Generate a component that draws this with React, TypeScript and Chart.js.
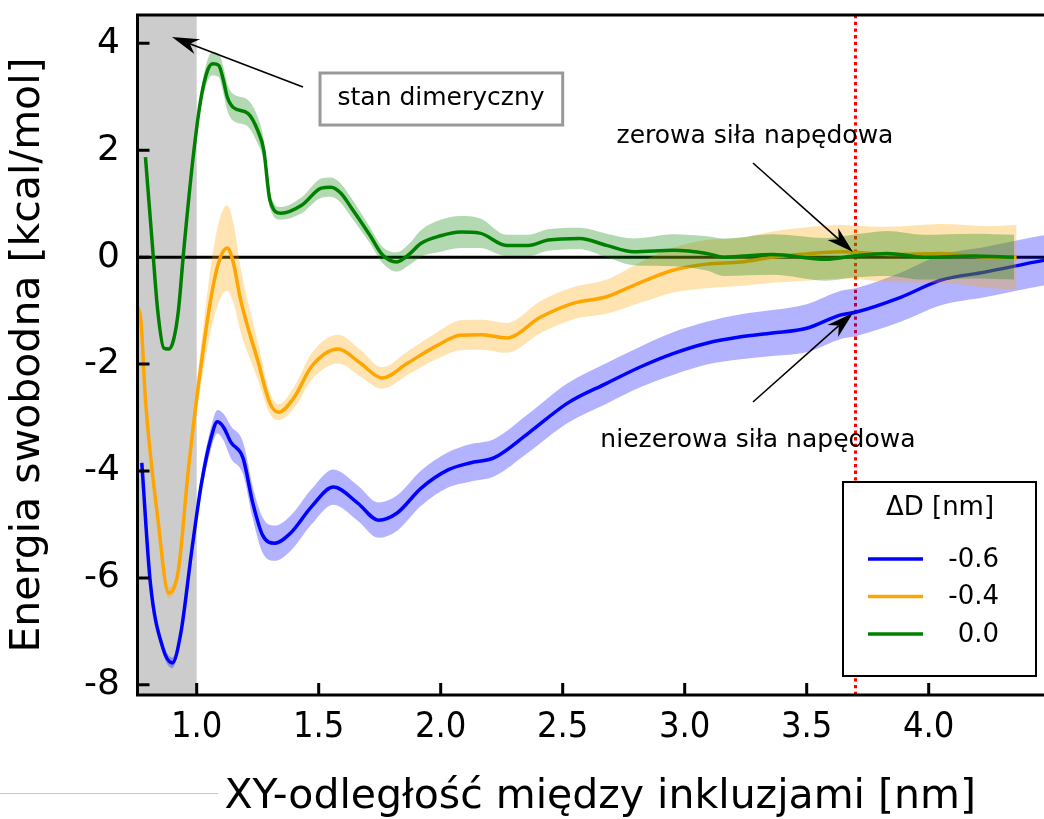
import React, { useEffect, useRef } from 'react';
import { Chart, registerables } from 'chart.js';

Chart.register(...registerables);

const X_TICKS = [1.0, 1.5, 2.0, 2.5, 3.0, 3.5, 4.0];
const Y_TICKS = [-8, -6, -4, -2, 0, 2, 4];
const SERIES_LABELS = ['-0.6', '-0.4', '0.0'];
const LEGEND_TITLE = 'ΔD [nm]';
const X_TITLE = 'XY-odległość między inkluzjami [nm]';
const Y_TITLE = 'Energia swobodna [kcal/mol]';

// ΔD = -0.6
const BLUE_X = [0.775, 0.81, 0.86, 0.9, 0.935, 0.98, 1.02, 1.06, 1.085, 1.11, 1.14, 1.19, 1.23, 1.27, 1.32, 1.385, 1.47, 1.56, 1.66, 1.745, 1.82, 1.92, 2.03, 2.12, 2.22, 2.36, 2.52, 2.68, 2.82, 2.955, 3.09, 3.23, 3.36, 3.5, 3.64, 3.7, 3.885, 4.05, 4.23, 4.47, 4.55];
const BLUE_Y = [-3.85, -6.09, -7.29, -7.59, -7.03, -5.48, -4.22, -3.36, -3.08, -3.18, -3.46, -3.76, -4.6, -5.2, -5.35, -5.16, -4.67, -4.3, -4.6, -4.92, -4.79, -4.32, -3.98, -3.85, -3.75, -3.29, -2.73, -2.36, -2.05, -1.8, -1.61, -1.49, -1.42, -1.33, -1.08, -1.03, -0.75, -0.43, -0.28, -0.06, 0.0];
const BLUE_ERR = [0.1, 0.1, 0.1, 0.1, 0.1, 0.12, 0.18, 0.2, 0.22, 0.25, 0.3, 0.3, 0.3, 0.33, 0.33, 0.33, 0.33, 0.33, 0.33, 0.33, 0.33, 0.33, 0.33, 0.35, 0.35, 0.36, 0.37, 0.38, 0.38, 0.4, 0.4, 0.42, 0.43, 0.45, 0.45, 0.45, 0.46, 0.47, 0.47, 0.47, 0.47];

// ΔD = -0.4
const ORANGE_X = [0.75, 0.77, 0.79, 0.84, 0.885, 0.925, 0.967, 1.008, 1.057, 1.09, 1.125, 1.15, 1.18, 1.25, 1.3, 1.335, 1.4, 1.47, 1.58, 1.67, 1.76, 1.865, 1.99, 2.08, 2.17, 2.27, 2.41, 2.545, 2.68, 2.82, 2.955, 3.09, 3.23, 3.36, 3.5, 3.64, 3.7, 3.84, 4.05, 4.25, 4.36];
const ORANGE_Y = [-0.9, -1.12, -2.67, -4.86, -6.28, -5.85, -3.92, -2.36, -0.8, -0.1, 0.17, -0.1, -0.8, -1.93, -2.73, -2.9, -2.62, -2.05, -1.72, -1.98, -2.26, -1.98, -1.64, -1.46, -1.45, -1.51, -1.12, -0.86, -0.74, -0.47, -0.24, -0.13, -0.09, 0.0, 0.06, 0.1, 0.09, 0.05, 0.07, 0.0, 0.0];
const ORANGE_ERR = [0.1, 0.1, 0.1, 0.1, 0.1, 0.1, 0.15, 0.3, 0.6, 0.75, 0.8, 0.75, 0.6, 0.35, 0.2, 0.15, 0.2, 0.25, 0.27, 0.25, 0.2, 0.22, 0.25, 0.28, 0.28, 0.28, 0.3, 0.3, 0.32, 0.38, 0.42, 0.45, 0.45, 0.48, 0.5, 0.5, 0.5, 0.52, 0.55, 0.58, 0.6];

// ΔD = 0.0
const GREEN_X = [0.79, 0.82, 0.84, 0.865, 0.885, 0.905, 0.925, 0.947, 0.984, 1.016, 1.045, 1.066, 1.09, 1.11, 1.125, 1.15, 1.21, 1.25, 1.275, 1.3, 1.345, 1.43, 1.51, 1.55, 1.59, 1.63, 1.71, 1.76, 1.82, 1.87, 1.92, 2.0, 2.08, 2.16, 2.27, 2.36, 2.44, 2.57, 2.68, 2.79, 2.955, 3.09, 3.16, 3.36, 3.58, 3.69, 3.83, 3.98, 4.18, 4.35];
const GREEN_Y = [1.87, 0.13, -0.99, -1.7, -1.72, -1.55, -1.0, 0.13, 1.81, 2.93, 3.5, 3.62, 3.59, 3.3, 3.0, 2.8, 2.69, 2.37, 2.0, 1.07, 0.82, 0.97, 1.29, 1.31, 1.2, 0.95, 0.41, 0.05, -0.09, 0.05, 0.26, 0.4, 0.47, 0.45, 0.22, 0.22, 0.32, 0.35, 0.22, 0.1, 0.13, 0.07, 0.0, 0.05, -0.04, 0.02, 0.07, 0.0, 0.02, 0.0];
const GREEN_ERR = [0.03, 0.03, 0.03, 0.03, 0.03, 0.03, 0.03, 0.05, 0.1, 0.15, 0.2, 0.22, 0.22, 0.25, 0.25, 0.25, 0.25, 0.25, 0.2, 0.15, 0.12, 0.15, 0.18, 0.18, 0.18, 0.18, 0.15, 0.15, 0.18, 0.2, 0.25, 0.3, 0.3, 0.28, 0.2, 0.2, 0.2, 0.2, 0.22, 0.25, 0.3, 0.32, 0.35, 0.38, 0.4, 0.4, 0.42, 0.42, 0.42, 0.42];

const COLORS = ['#0000ff', '#ffa500', '#008000'];
const BAND_COLORS = ['rgba(0,0,255,0.3)', 'rgba(255,165,0,0.3)', 'rgba(0,128,0,0.3)'];

const X_MIN = 0.7574;
const X_MAX = 4.55;
const Y_MIN = -8.19;
const Y_MAX = 4.53;
const DRIVE_X = 3.7;
const DIMER_X = 1.0;

const pts = (xs: number[], ys: number[], err?: number[], sign = 0) =>
  xs.map((x, i) => ({ x, y: ys[i] + (err ? sign * err[i] : 0) }));

function drawArrow(ctx: CanvasRenderingContext2D, x1: number, y1: number, x2: number, y2: number) {
  const a = Math.atan2(y2 - y1, x2 - x1);
  const c = Math.cos(a), s = Math.sin(a);
  const L = 27, W = 8, N = 19;
  ctx.save();
  ctx.strokeStyle = '#000';
  ctx.fillStyle = '#000';
  ctx.lineWidth = 1.6;
  ctx.beginPath();
  ctx.moveTo(x1, y1);
  ctx.lineTo(x2 - N * c, y2 - N * s);
  ctx.stroke();
  ctx.beginPath();
  ctx.moveTo(x2, y2);
  ctx.lineTo(x2 - L * c + W * s, y2 - L * s - W * c);
  ctx.lineTo(x2 - N * c, y2 - N * s);
  ctx.lineTo(x2 - L * c - W * s, y2 - L * s + W * c);
  ctx.closePath();
  ctx.fill();
  ctx.restore();
}

const decorPlugin = {
  id: 'decor',
  beforeDatasetsDraw(chart: any) {
    const { ctx, chartArea: a, scales } = chart;
    const xs = scales.x, ys = scales.y;
    ctx.save();
    ctx.fillStyle = '#cccccc';
    const xd = xs.getPixelForValue(DIMER_X);
    ctx.fillRect(a.left, a.top, xd - a.left, a.bottom - a.top);
    ctx.strokeStyle = '#ff0000';
    ctx.lineWidth = 3;
    ctx.setLineDash([3.3, 3.4]);
    const xr = xs.getPixelForValue(DRIVE_X);
    ctx.beginPath();
    ctx.moveTo(xr, a.top);
    ctx.lineTo(xr, a.bottom);
    ctx.stroke();
    ctx.setLineDash([]);
    const y0 = ys.getPixelForValue(0);
    ctx.strokeStyle = '#000';
    ctx.lineWidth = 3;
    ctx.beginPath();
    ctx.moveTo(a.left, y0);
    ctx.lineTo(a.right, y0);
    ctx.stroke();
    ctx.restore();
  },
  afterDraw(chart: any) {
    const { ctx, chartArea: a, scales } = chart;
    const xs = scales.x, ys = scales.y;
    const P = (x: number, y: number) => [xs.getPixelForValue(x), ys.getPixelForValue(y)];
    ctx.save();
    ctx.strokeStyle = '#000';
    ctx.lineWidth = 3;
    ctx.strokeRect(a.left, a.top, a.right - a.left, a.bottom - a.top);
    ctx.beginPath();
    for (const t of xs.ticks) {
      const px = xs.getPixelForValue(t.value);
      ctx.moveTo(px, a.bottom);
      ctx.lineTo(px, a.bottom - 12);
    }
    for (const t of ys.ticks) {
      const py = ys.getPixelForValue(t.value);
      ctx.moveTo(a.left, py);
      ctx.lineTo(a.left + 12, py);
    }
    ctx.stroke();

    ctx.font = '25px "DejaVu Sans"';
    ctx.fillStyle = '#000';
    ctx.textAlign = 'center';
    ctx.textBaseline = 'alphabetic';
    const [bl, bt] = P(1.5054, 3.445);
    const [br, bb] = P(2.5, 2.472);
    ctx.fillStyle = '#fff';
    ctx.fillRect(bl, bt, br - bl, bb - bt);
    ctx.strokeStyle = '#999999';
    ctx.lineWidth = 3;
    ctx.strokeRect(bl, bt, br - bl, bb - bt);
    ctx.fillStyle = '#000';
    let [tx, ty] = P(2.0013, 2.847);
    ctx.fillText('stan dimeryczny', tx, ty);
    let [ax1, ay1] = P(1.4357, 3.183);
    let [ax2, ay2] = P(0.8988, 4.118);
    drawArrow(ctx, ax1, ay1, ax2, ay2);

    [tx, ty] = P(3.288, 2.136);
    ctx.fillText('zerowa siła napędowa', tx, ty);
    [ax1, ay1] = P(3.2799, 1.762);
    [ax2, ay2] = P(3.6897, 0.097);
    drawArrow(ctx, ax1, ay1, ax2, ay2);

    [tx, ty] = P(3.3, -3.551);
    ctx.fillText('niezerowa siła napędowa', tx, ty);
    [ax1, ay1] = P(3.2799, -2.709);
    [ax2, ay2] = P(3.6897, -1.044);
    drawArrow(ctx, ax1, ay1, ax2, ay2);

    const lx = 843, ly = 482, lw = 193, lh = 194;
    ctx.fillStyle = '#fff';
    ctx.fillRect(lx, ly, lw, lh);
    ctx.strokeStyle = '#000';
    ctx.lineWidth = 2;
    ctx.strokeRect(lx, ly, lw, lh);
    ctx.fillStyle = '#000';
    ctx.font = '26px "DejaVu Sans"';
    ctx.textAlign = 'center';
    ctx.fillText(LEGEND_TITLE, 940, 515);
    const lines = chart.data.datasets.filter((d: any) => d.isMain);
    lines.forEach((d: any, i: number) => {
      const yy = 559 + i * 37.5;
      ctx.strokeStyle = d.borderColor;
      ctx.lineWidth = 3.5;
      ctx.beginPath();
      ctx.moveTo(868, yy);
      ctx.lineTo(923, yy);
      ctx.stroke();
      ctx.textAlign = 'right';
      ctx.textBaseline = 'middle';
      ctx.fillText(d.label, 999, yy + 1);
    });

    ctx.strokeStyle = '#c8c8c8';
    ctx.lineWidth = 1;
    ctx.beginPath();
    ctx.moveTo(0, 793.5);
    ctx.lineTo(218, 793.5);
    ctx.stroke();
    ctx.restore();
  },
};

export default function App() {
  const ref = useRef<HTMLCanvasElement | null>(null);
  useEffect(() => {
    if (!ref.current) return;
    const series = [
      { xs: BLUE_X, ys: BLUE_Y, err: BLUE_ERR },
      { xs: ORANGE_X, ys: ORANGE_Y, err: ORANGE_ERR },
      { xs: GREEN_X, ys: GREEN_Y, err: GREEN_ERR },
    ];
    const datasets: any[] = [];
    const common = {
      pointRadius: 0,
      pointHoverRadius: 0,
      cubicInterpolationMode: 'monotone',
      tension: 0.4,
    };
    series.forEach((s, i) => {
      const base = datasets.length;
      datasets.push({
        ...common,
        label: 'lower',
        data: pts(s.xs, s.ys, s.err, -1),
        borderWidth: 0,
        borderColor: 'rgba(0,0,0,0)',
        fill: false,
        order: 20,
      });
      datasets.push({
        ...common,
        label: 'upper',
        data: pts(s.xs, s.ys, s.err, 1),
        borderWidth: 0,
        borderColor: 'rgba(0,0,0,0)',
        backgroundColor: BAND_COLORS[i],
        fill: base,
        order: 10 - i * 2,
      });
      datasets.push({
        ...common,
        label: SERIES_LABELS[i],
        isMain: true,
        data: pts(s.xs, s.ys),
        borderColor: COLORS[i],
        borderWidth: 3.5,
        fill: false,
        order: 9 - i * 2,
      });
    });

    const chart = new Chart(ref.current, {
      type: 'line',
      data: { datasets },
      plugins: [decorPlugin],
      options: {
        animation: false,
        responsive: false,
        devicePixelRatio: 1,
        events: [],
        layout: { padding: { left: 0, top: 15, right: 12.1, bottom: 0 } },
        plugins: { legend: { display: false }, tooltip: { enabled: false } },
        scales: {
          x: {
            type: 'linear',
            min: X_MIN,
            max: X_MAX,
            afterBuildTicks: (s: any) => {
              s.ticks = X_TICKS.map((v) => ({ value: v }));
            },
            afterFit: (s: any) => {
              s.height = 124;
              s.paddingLeft = 0;
              s.paddingRight = 0;
            },
            grid: { display: false, drawTicks: false },
            border: { display: false },
            ticks: {
              autoSkip: false,
              maxRotation: 0,
              color: '#000',
              padding: 11,
              font: { family: "'DejaVu Sans Condensed', 'DejaVu Sans'", size: 36 },
              callback: (v: any) => Number(v).toFixed(1),
            },
            title: {
              display: true,
              text: X_TITLE,
              color: '#000',
              font: { family: "'DejaVu Sans'", size: 41, lineHeight: 1 },
              padding: { top: 0, bottom: 0.7 },
            },
          },
          y: {
            type: 'linear',
            min: Y_MIN,
            max: Y_MAX,
            afterBuildTicks: (s: any) => {
              s.ticks = Y_TICKS.map((v) => ({ value: v }));
            },
            afterFit: (s: any) => {
              s.width = 137.5;
              s.paddingTop = 0;
              s.paddingBottom = 0;
            },
            grid: { display: false, drawTicks: false },
            border: { display: false },
            ticks: {
              color: '#000',
              padding: 17.5,
              font: { family: "'DejaVu Sans'", size: 36 },
              callback: (v: any) => String(v),
            },
            title: {
              display: true,
              text: Y_TITLE,
              color: '#000',
              font: { family: "'DejaVu Sans'", size: 41, lineHeight: 1 },
              padding: { top: 8.3, bottom: 0 },
            },
          },
        },
      } as any,
    });
    return () => chart.destroy();
  }, []);

  return (
    <div style={{ position: 'fixed', left: 0, top: 0, width: 1044, height: 819, overflow: 'hidden', background: '#fff' }}>
      <canvas ref={ref} width={1075} height={819} style={{ display: 'block', width: 1075, height: 819 }} />
    </div>
  );
}
